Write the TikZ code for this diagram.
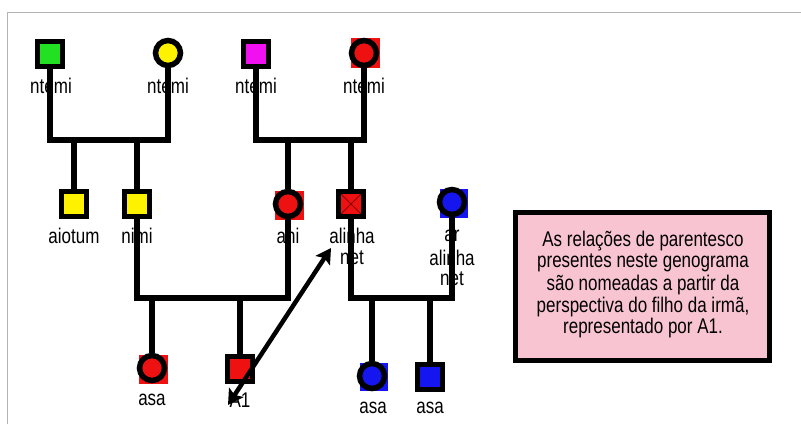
\documentclass[tikz,border=0pt]{standalone}
\usepackage{fontspec}
\setmainfont{Liberation Sans}
\usetikzlibrary{arrows.meta,calc}
\pgfdeclarelayer{bg}
\pgfsetlayers{bg,main}
\definecolor{cgreen}{HTML}{22E022}
\definecolor{cyellow}{HTML}{FFF200}
\definecolor{cmag}{HTML}{F010F0}
\definecolor{cred}{HTML}{EE1111}
\definecolor{cblue}{HTML}{1515F0}
\definecolor{cpink}{HTML}{F9C4D2}
\definecolor{cdred}{HTML}{8A0000}
\definecolor{cframe}{HTML}{B4B4B4}
\newcommand{\vs}[1]{\scalebox{1}[1.25]{#1}}
\begin{document}
\begin{tikzpicture}[x=1pt,y=-1pt,
  sq/.style={draw=black,line width=5.5pt,rectangle,minimum size=25pt,inner sep=0pt,fill=#1},
  ci/.style={draw=black,line width=5.5pt,circle,minimum size=25pt,inner sep=0pt,fill=#1},
  lbl/.style={inner sep=0pt,font=\fontsize{17}{20}\selectfont},
  rel/.style={line width=5.5pt,line join=miter},
  dblarrow/.style={line width=4.5pt,{Stealth[length=15pt,width=17pt,inset=3pt]}-{Stealth[length=15pt,width=17pt,inset=3pt]}}]
\useasboundingbox (0,0) rectangle (801,424);
% frame
\draw[cframe,line width=1.5pt] (7.5,424) -- (7.5,12.5) -- (801,12.5);

% generation 1
\node[sq=cgreen] (ga) at (50,54) {};
\node[ci=cyellow] (gb) at (168,53) {};
\node[sq=cmag] (gc) at (256,54) {};
\node[ci=cred] (gd) at (364,53) {};
% generation 2
\node[sq=cyellow] (aiotum) at (74,204) {};
\node[sq=cyellow] (nimi) at (137,204) {};
\node[ci=cred] (ani) at (288,204) {};
\node[sq=cred,path picture={\draw[cdred,line width=0.8pt]
   (path picture bounding box.north west) -- (path picture bounding box.south east)
   (path picture bounding box.north east) -- (path picture bounding box.south west);}] (alinha) at (351,204) {};
\node[ci=cblue] (ar) at (452,202) {};
% generation 3
\node[ci=cred] (asaa) at (152,368) {};
\node[sq=cred] (aone) at (240,369) {};
\node[ci=cblue] (asab) at (372,376) {};
\node[sq=cblue] (asac) at (430,377) {};

% coloured squares behind circles
\begin{pgfonlayer}{bg}
\fill[cred] ($(gd)+(-13,-15)$) rectangle ($(gd)+(16,15)$);
\fill[cred] ($(ani)+(-13,-13)$) rectangle ($(ani)+(16,16)$);
\fill[cred] ($(asaa)+(-13,-13)$) rectangle ($(asaa)+(16,16)$);
\fill[cblue] ($(ar)+(-12,-13)$) rectangle ($(ar)+(16,16)$);
\fill[cblue] ($(asab)+(-12,-13)$) rectangle ($(asab)+(16,15)$);
\end{pgfonlayer}

% labels
\node[lbl] (la) at (51,86) {\vs{ntemi}};
\node[lbl] (lb) at (168,86) {\vs{ntemi}};
\node[lbl] (lc) at (256,86) {\vs{ntemi}};
\node[lbl] (ld) at (364,86) {\vs{ntemi}};
\node[lbl] (laiotum) at (74,236) {\vs{aiotum}};
\node[lbl] (lnimi) at (137,236) {\vs{nimi}};
\node[lbl] (lani) at (288,236) {\vs{ani}};
\node[lbl] (lalinha) at (352,236) {\vs{alinha}};
\node[lbl] (lalnet) at (352,258) {\vs{net}};
\node[lbl] (lar) at (452,236) {\vs{ar}};
\node[lbl] (laralinha) at (452,258) {\vs{alinha}};
\node[lbl] (larnet) at (452,279) {\vs{net}};
\node[lbl] (lasaa) at (152,400) {\vs{asa}};
\node[lbl] (laone) at (240,400) {\vs{A1}};
\node[lbl] (lasab) at (373,408) {\vs{asa}};
\node[lbl] (lasac) at (430,408) {\vs{asa}};

% relation lines
\coordinate (bone) at (0,140);
\coordinate (bthree) at (0,298);
\draw[rel] (ga) -- (ga |- bone) -- (gb |- bone) -- (gb);
\draw[rel] (gc) -- (gc |- bone) -- (gd |- bone) -- (gd);
\draw[rel] (aiotum |- bone) -- (aiotum);
\draw[rel] (nimi |- bone) -- (nimi);
\draw[rel] (ani |- bone) -- (ani);
\draw[rel] (alinha |- bone) -- (alinha);
\draw[rel] (nimi) -- (nimi |- bthree) -- (ani |- bthree) -- (ani);
\draw[rel] (alinha) -- (alinha |- bthree) -- (ar |- bthree) -- (ar);
\draw[rel] (asaa |- bthree) -- (asaa);
\draw[rel] (aone |- bthree) -- (aone);
\draw[rel] (asab |- bthree) -- (asab);
\draw[rel] (asac |- bthree) -- (asac);

% arrow
\coordinate (arrb) at (228,405);
\coordinate (arrt) at (331,248);
\draw[dblarrow] (arrb) -- (arrt);

% note box
\node[draw=black,line width=5.5pt,fill=cpink,rectangle,minimum width=254pt,minimum height=148pt,inner sep=0pt] (note) at (642.5,286.5) {};
\node[lbl] (ta) at (643,241) {\vs{As relações de parentesco}};
\node[lbl] (tb) at (643,263) {\vs{presentes neste genograma}};
\node[lbl] (tc) at (643,285) {\vs{são nomeadas a partir da}};
\node[lbl] (td) at (643,307) {\vs{perspectiva do filho da irmã,}};
\node[lbl] (te) at (643,328) {\vs{representado por A1.}};
\end{tikzpicture}
\end{document}
